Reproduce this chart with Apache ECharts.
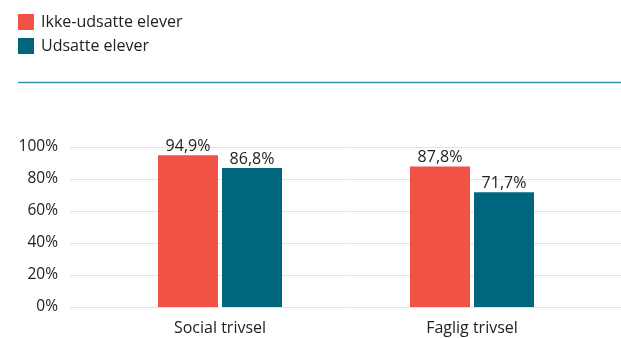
<!DOCTYPE html>
<html>
<head>
<meta charset="utf-8">
<script src="https://cdn.jsdelivr.net/npm/echarts@6/dist/echarts.min.js"></script>
<style>
  html, body { margin: 0; padding: 0; background: #fff; }
  #chart { width: 621px; height: 338px; }
</style>
</head>
<body>
<div id="chart"></div>
<script>
  // data
  var categories = ['Social trivsel', 'Faglig trivsel'];
  var ikkeUdsatte = [94.9, 87.8];
  var udsatte = [86.8, 71.7];
  var seriesNames = ['Ikke-udsatte elever', 'Udsatte elever'];
  var colors = ['#f05245', '#00667e'];

  var font = '"Open Sans", sans-serif';
  var chart = echarts.init(document.getElementById('chart'));

  function fmt(v) {
    return v.toFixed(1).replace('.', ',') + '%';
  }

  chart.setOption({
    animation: false,
    textStyle: { fontFamily: font },
    legend: {
      orient: 'vertical',
      left: 18,
      top: 14,
      padding: 0,
      itemWidth: 16,
      itemHeight: 16,
      itemGap: 8,
      icon: 'rect',
      textStyle: { fontSize: 16, color: '#222', fontFamily: font, padding: [0, 0, 0, 2] },
      data: seriesNames
    },
    graphic: [{
      type: 'line',
      shape: { x1: 18, y1: 82.5, x2: 621, y2: 82.5 },
      style: { stroke: '#3592ab', lineWidth: 1.5 }
    }],
    grid: [
      // background grid with y labels and split lines
      { left: 70, right: 0, top: 147, bottom: 31 },
      // bars
      { left: 94, right: 23, top: 147, bottom: 31 }
    ],
    xAxis: [{
      gridIndex: 0,
      type: 'category',
      data: categories,
      show: false
    }, {
      gridIndex: 1,
      type: 'category',
      data: categories,
      axisLine: { show: false },
      axisTick: { show: false },
      axisLabel: { fontSize: 16, color: '#222', margin: 13, fontFamily: font }
    }],
    yAxis: [{
      gridIndex: 0,
      type: 'value',
      min: 0,
      max: 100,
      interval: 20,
      axisLine: { show: false },
      axisTick: { show: false },
      splitLine: { lineStyle: { color: '#e3e3e3', width: 1 } },
      axisLabel: {
        fontSize: 15.5, color: '#222', margin: 12, fontFamily: font,
        formatter: '{value}%'
      }
    }, {
      gridIndex: 1,
      type: 'value',
      min: 0,
      max: 100,
      interval: 20,
      show: false,
      splitLine: { show: false }
    }],
    series: [{
      name: seriesNames[0],
      type: 'bar',
      xAxisIndex: 1,
      yAxisIndex: 1,
      data: ikkeUdsatte,
      barWidth: 60,
      barGap: '6.67%',
      itemStyle: { color: colors[0] },
      label: {
        show: true, position: 'top', distance: 1,
        fontSize: 16, color: '#222', fontFamily: font,
        formatter: function (p) { return fmt(p.value); }
      }
    }, {
      name: seriesNames[1],
      type: 'bar',
      xAxisIndex: 1,
      yAxisIndex: 1,
      data: udsatte,
      barWidth: 60,
      barGap: '6.67%',
      itemStyle: { color: colors[1] },
      label: {
        show: true, position: 'top', distance: 1,
        fontSize: 16, color: '#222', fontFamily: font,
        formatter: function (p) { return fmt(p.value); }
      }
    }]
  });
</script>
</body>
</html>
